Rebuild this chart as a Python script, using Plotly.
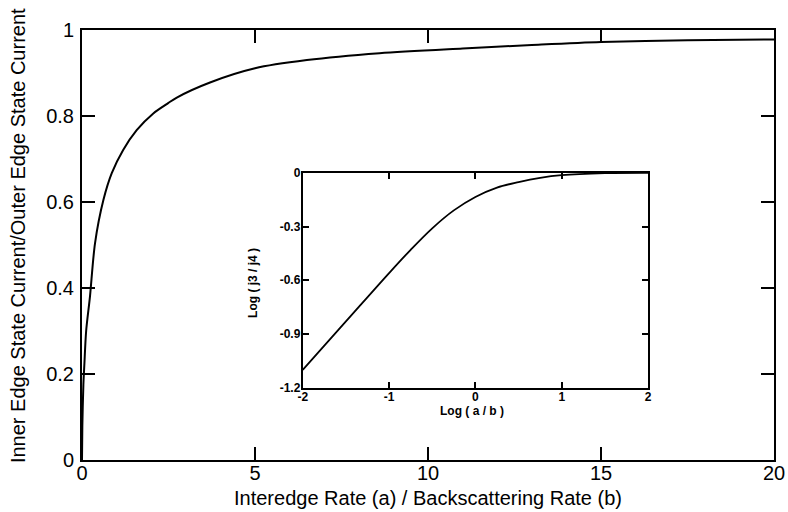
import plotly.graph_objects as go

# Main curve: inner/outer edge state current ratio vs a/b
ratio_ab = [0, 0.01, 0.04, 0.07, 0.12, 0.23, 0.376, 0.62, 0.86, 1.19, 1.58, 2.06,
            2.49, 2.74, 3.7, 5.0, 6.5, 8.6, 11.0, 13.0, 15.0, 17.5, 20.0]
current_ratio = [0, 0.08, 0.175, 0.225, 0.30, 0.38, 0.504, 0.605, 0.667, 0.721, 0.767, 0.806,
                 0.830, 0.843, 0.878, 0.911, 0.930, 0.946, 0.957, 0.965, 0.972, 0.976, 0.978]

# Inset: log(j3/j4) vs log(a/b)
log_ab = [-2.0, -1.5, -1.0, -0.75, -0.5, -0.25, 0.0, 0.25, 0.5, 0.75, 1.0, 1.5, 2.0]
log_j3_j4 = [-1.10, -0.83, -0.56, -0.43, -0.31, -0.21, -0.135, -0.083, -0.052, -0.028,
             -0.013, -0.002, 0.0]

main_xticks = [0, 5, 10, 15, 20]
main_xticklabels = ["0", "5", "10", "15", "20"]
main_yticks = [0, 0.2, 0.4, 0.6, 0.8, 1]
main_yticklabels = ["0", "0.2", "0.4", "0.6", "0.8", "1"]
inset_xticks = [-2, -1, 0, 1, 2]
inset_xticklabels = ["-2", "-1", "0", "1", "2"]
inset_yticks = [-1.2, -0.9, -0.6, -0.3, 0]
inset_yticklabels = ["-1.2", "-0.9", "-0.6", "-0.3", "0"]

main_font = dict(family="Liberation Sans, Arial, sans-serif", size=20, color="black")
inset_font = dict(family="Liberation Sans, Arial, sans-serif", size=12, color="black", weight="bold")

fig = go.Figure()
fig.add_trace(go.Scatter(x=ratio_ab, y=current_ratio, mode="lines",
                         line=dict(color="black", width=2, shape="spline", smoothing=0.8),
                         xaxis="x", yaxis="y", showlegend=False, hoverinfo="skip"))
fig.add_trace(go.Scatter(x=log_ab, y=log_j3_j4, mode="lines",
                         line=dict(color="black", width=1.8, shape="spline", smoothing=1.0),
                         xaxis="x2", yaxis="y2", showlegend=False, hoverinfo="skip"))

common = dict(showgrid=False, zeroline=False, showline=True, linecolor="black",
              mirror="ticks", ticks="inside", tickcolor="black", ticklabeloverflow="allow",
              automargin=False)

fig.update_layout(
    width=788, height=512,
    margin=dict(l=82, r=14, t=30, b=52),
    paper_bgcolor="white", plot_bgcolor="white",
    xaxis=dict(domain=[0, 1], range=[0, 20], tickvals=main_xticks, ticktext=main_xticklabels,
               linewidth=2, ticklen=13, tickwidth=1.5, tickfont=main_font,
               ticklabelstandoff=-6, **common),
    yaxis=dict(domain=[0, 1], range=[0, 1], tickvals=main_yticks, ticktext=main_yticklabels,
               linewidth=2, ticklen=13, tickwidth=1.5, tickfont=main_font,
               ticklabelstandoff=2, **common),
    xaxis2=dict(domain=[0.319, 0.818], anchor="y2", range=[-2, 2], tickvals=inset_xticks,
                ticktext=inset_xticklabels, linewidth=2, ticklen=6, tickwidth=1.5,
                tickfont=inset_font, ticklabelstandoff=-3, **common),
    yaxis2=dict(domain=[0.168, 0.668], anchor="x2", range=[-1.2, 0], tickvals=inset_yticks,
                ticktext=inset_yticklabels, linewidth=2, ticklen=6, tickwidth=1.5,
                tickfont=inset_font, ticklabelstandoff=-2, **common),
    annotations=[
        dict(text="Interedge Rate (a) / Backscattering Rate (b)", xref="paper", yref="paper",
             x=0.5, y=-0.088, xanchor="center", yanchor="middle", showarrow=False, font=main_font),
        dict(text="Inner Edge State Current/Outer Edge State Current", xref="paper", yref="paper",
             x=-0.0925, y=0.523, xanchor="center", yanchor="middle", textangle=-90,
             showarrow=False, font=main_font),
        dict(text="Log ( a / b )", xref="paper", yref="paper",
             x=0.5636, y=0.114, xanchor="center", yanchor="middle", showarrow=False, font=inset_font),
        dict(text="Log ( j3 / j4 )", xref="paper", yref="paper",
             x=0.247, y=0.4116, xanchor="center", yanchor="middle", textangle=-90,
             showarrow=False, font=inset_font),
    ],
)

fig.write_html("out.html", config={"displayModeBar": False},
               post_script="document.body.style.margin='0';")
